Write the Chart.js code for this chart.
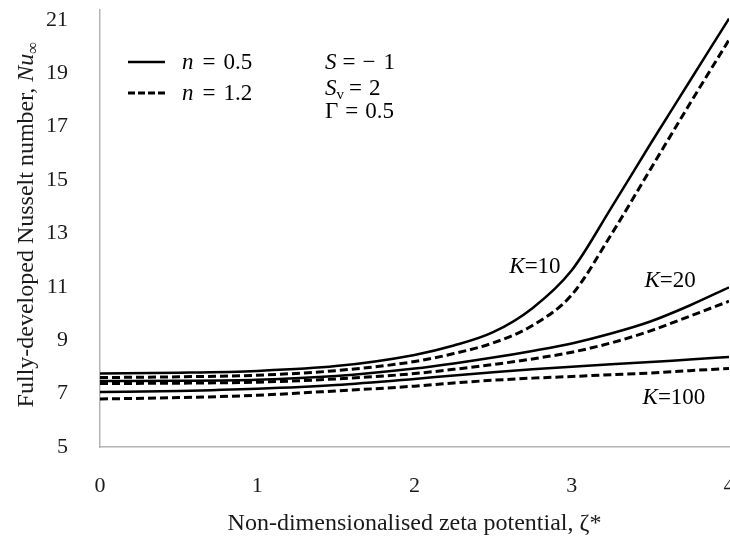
<!DOCTYPE html>
<html>
<head>
<meta charset="utf-8">
<title>Fully-developed Nusselt number vs zeta potential</title>
<script src="https://cdn.jsdelivr.net/npm/chart.js@4.4.1/dist/chart.umd.min.js"></script>
<style>
  html, body { margin: 0; padding: 0; background: #fff; overflow: hidden; }
  #wrap { width: 730px; height: 540px; overflow: hidden; }
  canvas { display: block; }
</style>
</head>
<body>
<div id="wrap"><canvas id="nuChart" width="760" height="540"></canvas></div>
<script>
const zeta = [0, 0.5, 1, 1.5, 2, 2.25, 2.5, 2.75, 3, 3.25, 3.5, 3.75, 4];

// n = 0.5 (solid lines)
const nuK10n05  = [7.75, 7.78, 7.85, 8.03, 8.45, 8.80, 9.30, 10.20, 11.62, 13.95, 16.35, 18.70, 21.05];
const nuK20n05  = [7.47, 7.48, 7.52, 7.66, 7.94, 8.13, 8.35, 8.60, 8.88, 9.25, 9.70, 10.30, 10.98];
const nuK100n05 = [7.06, 7.10, 7.18, 7.32, 7.55, 7.68, 7.80, 7.91, 8.01, 8.10, 8.18, 8.28, 8.37];

// n = 1.2 (dashed lines)
const nuK10n12  = [7.60, 7.63, 7.69, 7.86, 8.20, 8.50, 8.90, 9.55, 10.70, 12.95, 15.40, 17.85, 20.25];
const nuK20n12  = [7.38, 7.39, 7.43, 7.55, 7.75, 7.91, 8.09, 8.30, 8.55, 8.90, 9.35, 9.90, 10.46];
const nuK100n12 = [6.80, 6.85, 6.94, 7.10, 7.28, 7.40, 7.50, 7.58, 7.64, 7.71, 7.77, 7.86, 7.94];

const xTicks = [0, 1, 2, 3, 4];
const yTicks = [5, 7, 9, 11, 13, 15, 17, 19, 21];

const serif = "'Liberation Serif', 'Times New Roman', serif";
const axisGrey = '#b4b4b4';
const textCol = '#1a1a1a';

function series(values) {
    return values.map((v, i) => ({ x: zeta[i], y: v }));
}

function lineSet(label, values, dashed) {
    return {
        label: label,
        data: series(values),
        borderColor: '#000',
        borderWidth: dashed ? 3 : 2.5,
        borderDash: dashed ? [8, 4] : [],
        pointRadius: 0,
        fill: false,
        cubicInterpolationMode: 'monotone'
    };
}

// draw a run of text pieces with different fonts, left to right
function drawRich(ctx, x, y, parts, align) {
    let w = 0;
    parts.forEach(p => { ctx.font = p.f; w += ctx.measureText(p.t).width + (p.gap || 0); });
    let cx = align === 'center' ? x - w / 2 : x;
    parts.forEach(p => {
        cx += p.gap || 0;
        ctx.font = p.f;
        ctx.fillText(p.t, cx, y + (p.dy || 0));
        cx += ctx.measureText(p.t).width;
    });
}

const annotations = {
    id: 'annotations',
    afterDraw(chart) {
        const ctx = chart.ctx;
        const xs = chart.scales.x, ys = chart.scales.y;
        const up = '23px ' + serif, it = 'italic 23px ' + serif;
        const sub = '15px ' + serif;
        ctx.save();
        ctx.fillStyle = '#000';
        ctx.textBaseline = 'alphabetic';
        ctx.textAlign = 'left';

        // legend
        ctx.strokeStyle = '#000';
        ctx.lineWidth = 2.5;
        ctx.setLineDash([]);
        ctx.beginPath(); ctx.moveTo(128, 62); ctx.lineTo(165, 62); ctx.stroke();
        ctx.lineWidth = 3;
        ctx.setLineDash([7, 3]);
        ctx.beginPath(); ctx.moveTo(128, 93); ctx.lineTo(165, 93); ctx.stroke();
        ctx.setLineDash([]);
        drawRich(ctx, 182, 69, [{ t: 'n', f: it }, { t: '=', f: up, gap: 9 }, { t: '0.5', f: up, gap: 8 }]);
        drawRich(ctx, 182, 100, [{ t: 'n', f: it }, { t: '=', f: up, gap: 9 }, { t: '1.2', f: up, gap: 8 }]);

        // parameters
        drawRich(ctx, 325, 69, [{ t: 'S', f: it }, { t: '=', f: up, gap: 6 }, { t: '\u2212', f: up, gap: 7 }, { t: '1', f: up, gap: 8 }]);
        drawRich(ctx, 325, 95, [{ t: 'S', f: it }, { t: 'v', f: sub, dy: 4 }, { t: '=', f: up, gap: 5 }, { t: '2', f: up, gap: 7 }]);
        drawRich(ctx, 325, 118, [{ t: '\u0393', f: up }, { t: '=', f: up, gap: 7 }, { t: '0.5', f: up, gap: 7 }]);

        // curve labels, anchored in data space
        const kFont = 'italic 23px ' + serif, kUp = '23px ' + serif;
        drawRich(ctx, xs.getPixelForValue(2.766), ys.getPixelForValue(11.82) + 8, [{ t: 'K', f: kFont }, { t: '=10', f: kUp }], 'center');
        drawRich(ctx, xs.getPixelForValue(3.625), ys.getPixelForValue(11.30) + 8, [{ t: 'K', f: kFont }, { t: '=20', f: kUp }], 'center');
        drawRich(ctx, xs.getPixelForValue(3.650), ys.getPixelForValue(6.91) + 8, [{ t: 'K', f: kFont }, { t: '=100', f: kUp }], 'center');

        // y axis title (rotated, with italic Nu and subscript infinity)
        const tUp = '24px ' + serif, tIt = 'italic 24px ' + serif;
        ctx.translate(33, (chart.chartArea.top + chart.chartArea.bottom) / 2 - 4);
        ctx.rotate(-Math.PI / 2);
        ctx.fillStyle = textCol;
        drawRich(ctx, 0, 0, [
            { t: 'Fully-developed Nusselt number, ', f: tUp },
            { t: 'Nu', f: tIt },
            { t: '\u221e', f: '17px ' + serif, dy: 5 }
        ], 'center');
        ctx.restore();
    }
};

function initChart() {
    const ctx = document.getElementById('nuChart').getContext('2d');
    new Chart(ctx, {
        type: 'line',
        data: {
            datasets: [
                lineSet('K=10, n=0.5', nuK10n05, false),
                lineSet('K=10, n=1.2', nuK10n12, true),
                lineSet('K=20, n=0.5', nuK20n05, false),
                lineSet('K=20, n=1.2', nuK20n12, true),
                lineSet('K=100, n=0.5', nuK100n05, false),
                lineSet('K=100, n=1.2', nuK100n12, true)
            ]
        },
        options: {
            responsive: false,
            animation: false,
            layout: { padding: { top: 10, right: 31, left: 0, bottom: 0 } },
            plugins: {
                legend: { display: false },
                tooltip: { enabled: false }
            },
            scales: {
                x: {
                    type: 'linear',
                    min: 0,
                    max: 4,
                    grid: { display: false },
                    border: { display: true, color: axisGrey, width: 1.5 },
                    afterBuildTicks: s => { s.ticks = xTicks.map(v => ({ value: v })); },
                    afterFit: s => { s.height = 93; s.paddingLeft = 0; s.paddingRight = 0; },
                    ticks: { padding: 18, color: textCol, font: { family: serif, size: 22 } },
                    title: {
                        display: true,
                        text: 'Non-dimensionalised zeta potential, \u03b6*',
                        color: textCol,
                        font: { family: serif, size: 24 },
                        padding: { top: 0, bottom: 2 }
                    }
                },
                y: {
                    type: 'linear',
                    min: 5,
                    max: 21.37,
                    grid: { display: false },
                    border: { display: true, color: axisGrey, width: 1.5 },
                    afterBuildTicks: s => { s.ticks = yTicks.map(v => ({ value: v })); },
                    afterFit: s => { s.width = 100; s.paddingTop = 0; s.paddingBottom = 0; },
                    ticks: { padding: 24, color: textCol, font: { family: serif, size: 22 } }
                }
            }
        },
        plugins: [annotations]
    });
}

document.addEventListener('DOMContentLoaded', initChart);
</script>
</body>
</html>
